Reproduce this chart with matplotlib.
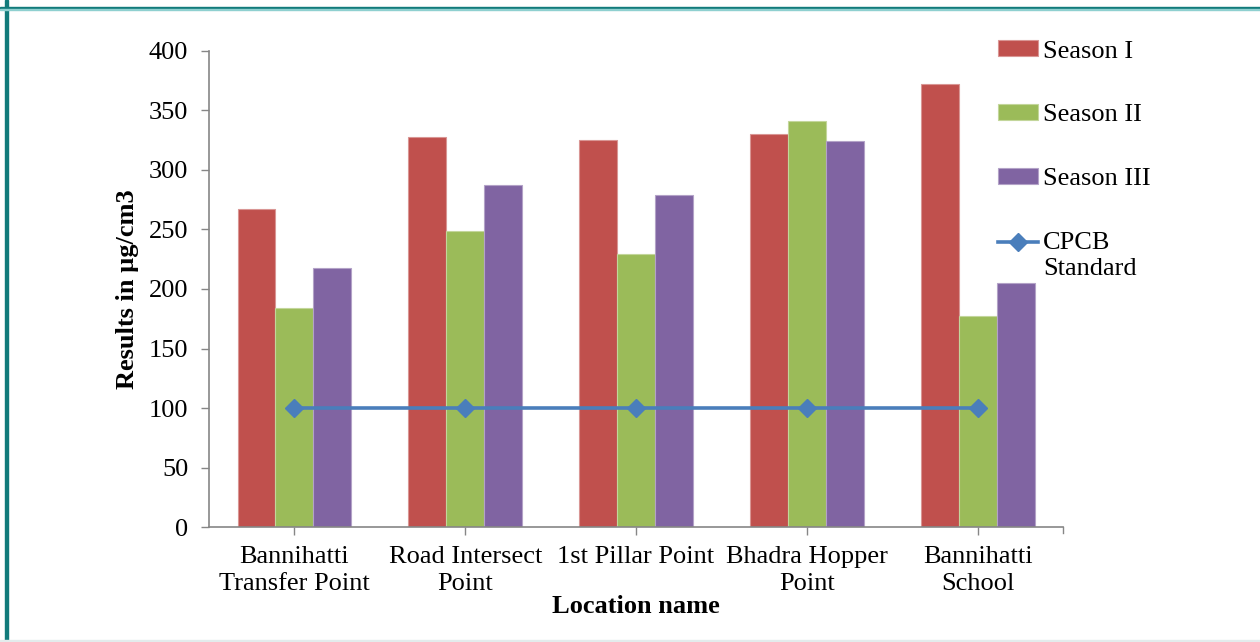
import matplotlib
matplotlib.use("Agg")
import matplotlib.pyplot as plt
from matplotlib.patches import Rectangle
from matplotlib.legend_handler import HandlerLine2D
import numpy as np

plt.rcParams['font.family'] = ['Liberation Serif', 'DejaVu Serif']

locations = ["Bannihatti\nTransfer Point", "Road Intersect\nPoint", "1st Pillar Point",
             "Bhadra Hopper\nPoint", "Bannihatti\nSchool"]
season_1 = [267, 328, 325, 330, 372]
season_2 = [184, 249, 229, 341, 177]
season_3 = [218, 287, 279, 324, 205]
cpcb_standard = [100, 100, 100, 100, 100]
series_names = ["Season I", "Season II", "Season III", "CPCB\nStandard"]
y_ticks = [0, 50, 100, 150, 200, 250, 300, 350, 400]

colors = ["#c0504d", "#9bbb59", "#8064a2"]
edges = ["#d99694", "#c3d69b", "#b3a2c7"]
line_color = "#4a7ebb"
FS = 19


class FirstLineHandler(HandlerLine2D):
    """Line handle placed level with the first line of a two-line label."""
    def create_artists(self, legend, orig_handle, xdescent, ydescent, width, height,
                       fontsize, trans):
        return super().create_artists(legend, orig_handle, xdescent, ydescent - 20,
                                      width, height, fontsize, trans)


fig = plt.figure(figsize=(12.6, 6.42), dpi=100)
ax = fig.add_axes([0.1659, 0.1791, 0.8437 - 0.1659, 0.9206 - 0.1791])

x = np.arange(len(locations))
w = 0.222
handles = []
for i, (vals, c, e, name) in enumerate(zip([season_1, season_2, season_3], colors, edges, series_names)):
    h = ax.bar(x + (i - 1) * w, vals, width=w, color=c, edgecolor=e, linewidth=0.8, label=name, zorder=2)
    handles.append(h)

ln, = ax.plot(x, cpcb_standard, color=line_color, lw=2.6, marker="D", markersize=9,
              markerfacecolor=line_color, markeredgecolor=line_color, label=series_names[3], zorder=3)
handles.append(ln)

ax.set_xlim(-0.5, len(locations) - 0.5)
ax.set_ylim(0, 400)
ax.set_yticks(y_ticks)
ax.set_yticklabels([str(v) for v in y_ticks], fontsize=FS)
ax.set_xticks(x)
ax.set_xticklabels(locations, fontsize=FS, linespacing=1.25)
ax.tick_params(axis='y', direction='out', length=6, width=1, color='#868686', pad=9)
ax.tick_params(axis='x', direction='out', length=6, width=1, color='#868686', pad=8)
for s in ["top", "right"]:
    ax.spines[s].set_visible(False)
for s in ["left", "bottom"]:
    ax.spines[s].set_color('#868686')
    ax.spines[s].set_linewidth(1.2)
ax.plot([1, 1], [0, -0.012], transform=ax.transAxes, color='#868686', lw=1, clip_on=False)

ax.set_ylabel("Results in µg/cm3", fontsize=FS, fontweight='bold', labelpad=7)
ax.set_xlabel("Location name", fontsize=FS, fontweight='bold', labelpad=0)

leg = fig.legend(handles=handles, labels=series_names, loc='upper left',
                 bbox_to_anchor=(0.792, 0.937), frameon=False, fontsize=FS,
                 handlelength=1.52, handleheight=0.55, handletextpad=0.2,
                 labelspacing=1.57, borderaxespad=0, borderpad=0,
                 handler_map={ln: FirstLineHandler()})
leg.get_texts()[3].set_linespacing(1.25)

# frame around the figure
fig.patches.append(Rectangle((5 / 1260, 0), 2.5 / 1260, 1, transform=fig.transFigure,
                             color='#127b7b', zorder=10))
fig.patches.append(Rectangle((0, 1 - 9 / 642), 1, 2.5 / 642, transform=fig.transFigure,
                             color='#127b7b', zorder=10))
fig.patches.append(Rectangle((0, 1 - 10 / 642), 1, 1 / 642, transform=fig.transFigure,
                             color='#8fd0d0', zorder=10))
fig.patches.append(Rectangle((0, 0), 1, 2 / 642, transform=fig.transFigure,
                             color='#e3ecec', zorder=10))

fig.savefig("out.png", dpi=100)
